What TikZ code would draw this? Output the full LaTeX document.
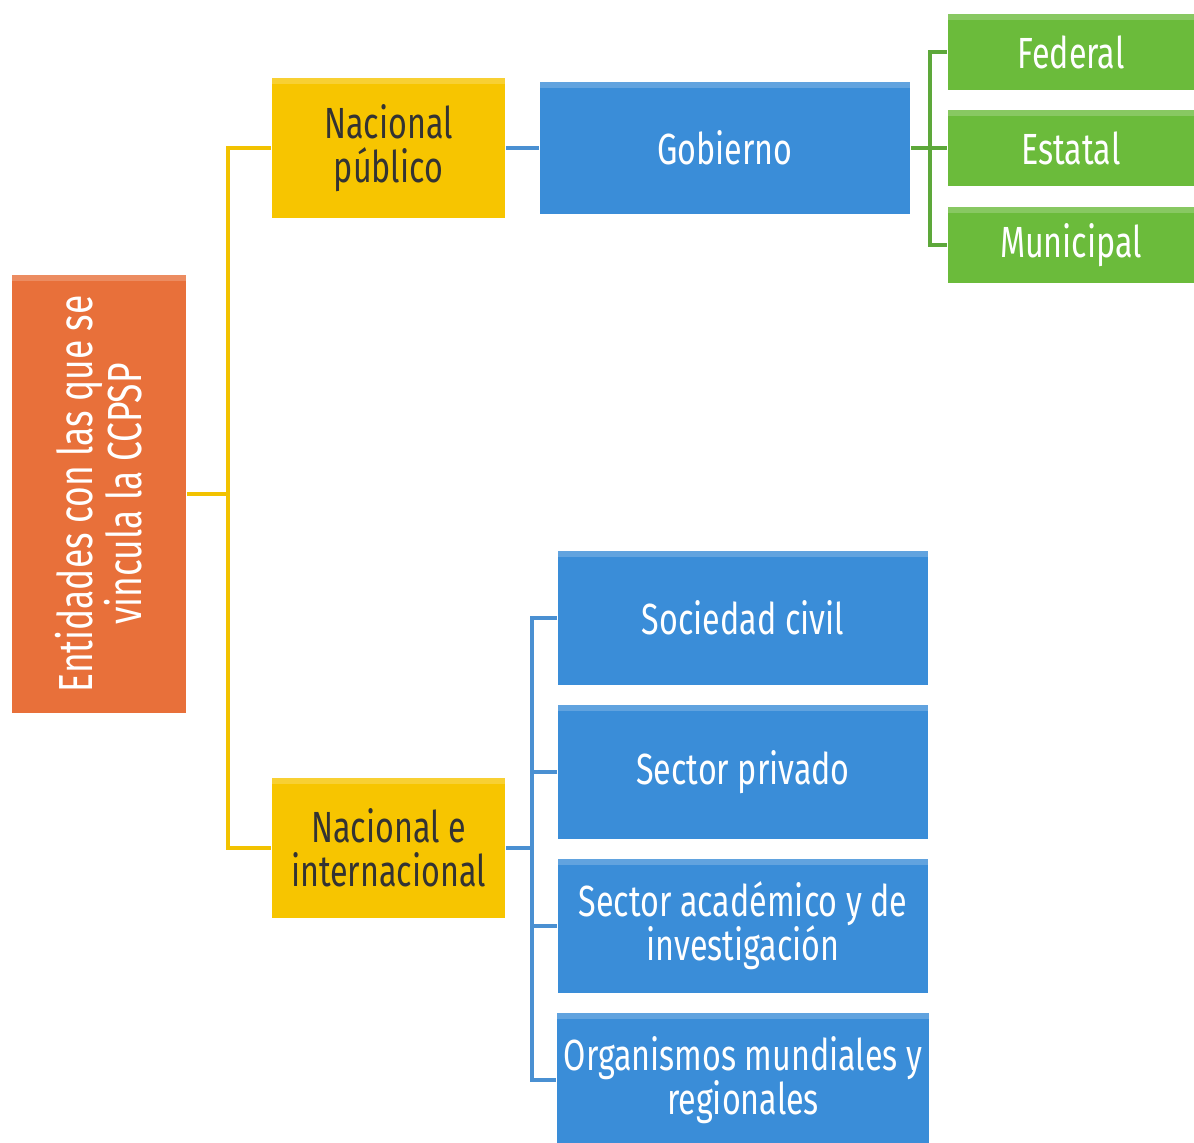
\documentclass[tikz,border=0pt]{standalone}
\usepackage{fontspec}
\setmainfont{Fira Sans}[FakeStretch=0.74]
\usepackage{xcolor}
\usepackage{tikz}
\usetikzlibrary{positioning}

\definecolor{naranja}{HTML}{E8703A}
\definecolor{amarillo}{HTML}{F7C500}
\definecolor{azul}{HTML}{3A8DD8}
\definecolor{verde}{HTML}{6BBB3B}
\definecolor{lineaamarilla}{HTML}{F2C200}
\definecolor{lineaazul}{HTML}{4A90D2}
\definecolor{lineaverde}{HTML}{5DA83A}

\tikzset{
  caja/.style={rectangle, inner sep=2pt, align=center, font=\fontsize{12.4}{12.6}\selectfont,
    path picture={\fill[white, opacity=0.2] (path picture bounding box.north west)
      rectangle ([yshift=-0.06cm]path picture bounding box.north east);}},
  cajanaranja/.style={caja, fill=naranja, text=white},
  cajaamarilla/.style={caja, fill=amarillo, text=black!80},
  cajaazul/.style={caja, fill=azul, text=white},
  cajaverde/.style={caja, fill=verde, text=white},
}

\begin{document}
\begin{tikzpicture}[x=0.01cm, y=-0.01cm]
    \clip (0,0) rectangle (1194,1142);
    \fill[white] (0,0) rectangle (1194,1142);
    % raiz
    \node(E) at (99,494) [cajanaranja, minimum width=1.74cm, minimum height=4.38cm] {};
    \node(ET) at (E.center) [rotate=90, align=center, text=white, font=\fontsize{13.6}{14}\selectfont]
      {Entidades con las que se\\vincula la CCPSP};
    % segundo nivel
    \node(NP) at (388.5,148) [cajaamarilla, minimum width=2.33cm, minimum height=1.40cm] {Nacional\\público};
    \node(NI) at (388.5,848) [cajaamarilla, minimum width=2.33cm, minimum height=1.40cm] {Nacional e\\internacional};
    % gobierno
    \node(G) at (725,148) [cajaazul, minimum width=3.70cm, minimum height=1.31cm] {Gobierno};
    \node(F) at (1071,52) [cajaverde, minimum width=2.46cm, minimum height=0.76cm] {Federal};
    \node(S) at (1071,148) [cajaverde, minimum width=2.46cm, minimum height=0.76cm] {Estatal};
    \node(M) at (1071,245) [cajaverde, minimum width=2.46cm, minimum height=0.76cm] {Municipal};
    % sectores
    \node(SC) at (743,618) [cajaazul, minimum width=3.70cm, minimum height=1.33cm] {Sociedad civil};
    \node(SP) at (743,772) [cajaazul, minimum width=3.70cm, minimum height=1.33cm] {Sector privado};
    \node(SA) at (743,926) [cajaazul, minimum width=3.70cm, minimum height=1.33cm] {Sector académico y de\\investigación};
    \node(OM) at (743,1080) [cajaazul, minimum width=3.70cm, minimum height=1.33cm] {Organismos mundiales y\\regionales};
    % conectores
    \coordinate(T1) at (228,494);
    \coordinate(T2) at (930,148);
    \coordinate(T3) at (532,848);
    \draw[lineaamarilla, line width=1.2pt] (E.east) -- (T1);
    \draw[lineaamarilla, line width=1.2pt] (NP.west) -| (T1) |- (NI.west);
    \draw[lineaazul, line width=1.2pt] (NP.east) -- (G.west);
    \draw[lineaverde, line width=1.2pt] (G.east) -- (S.west);
    \draw[lineaverde, line width=1.2pt] (F.west) -| (T2) |- (M.west);
    \draw[lineaazul, line width=1.2pt] (NI.east) -- (T3);
    \draw[lineaazul, line width=1.2pt] (SC.west) -| (T3) |- (OM.west);
    \draw[lineaazul, line width=1.2pt] (SP.west) -- (SP.west -| T3);
    \draw[lineaazul, line width=1.2pt] (SA.west) -- (SA.west -| T3);
  \end{tikzpicture}
\end{document}
